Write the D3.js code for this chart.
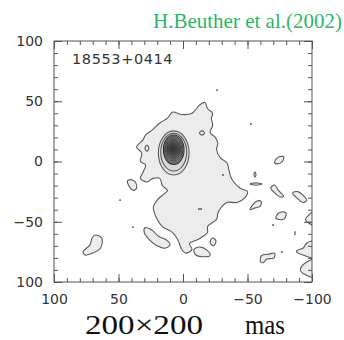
<!DOCTYPE html>
<html>
<head>
<meta charset="utf-8">
<script src="https://cdn.jsdelivr.net/npm/d3@7"></script>
<style>
  body { margin: 0; background: #fff; }
  svg { display: block; }
</style>
</head>
<body>
<div id="chart"></div>
<script>
// offsets in mas (x = RA offset, decreasing to the right)
var xTicks = [100, 50, 0, -50, -100];
var xTickLabels = ["100", "50", "0", "\u221250", "\u2212100"];
var yTicks = [100, 50, 0, -50, -100];
var yTickLabels = ["100", "50", "0", "\u221250", "100"];

// lowest contour: main emission region
var mainRegion = [
  [-17, 49], [-19, 44], [-23, 40], [-22, 36], [-23, 30], [-21, 24], [-25, 20],
  [-27, 15], [-26, 10], [-29, 3], [-34, -1], [-36, -9], [-38, -15], [-44, -22],
  [-50, -25], [-48, -30], [-42, -34], [-34, -34], [-29, -39], [-27, -43],
  [-26, -48], [-19, -54], [-19, -59], [-11, -65], [-5, -68], [-7, -73],
  [-2, -76], [1, -73], [4, -65], [8, -59], [16, -54], [20, -48], [22, -43],
  [23, -38], [20, -32], [16, -28], [12, -24], [16, -20], [18, -14], [23, -14],
  [28, -17], [33, -14], [31, -9], [29, -3], [33, 0], [32, 7], [36, 12],
  [31, 18], [29, 22], [24, 26], [18, 32], [12, 36], [8, 41], [1, 39],
  [-7, 40], [-13, 47]
];

// lowest contour: small separate patches
var islands = [
  [[41, -15], [37, -17], [36, -22], [38, -24], [42, -20], [43, -16]],
  [[29.5, 11], [28, 13.5], [26.5, 11], [28, 8.5]],
  [[-12.7, 23.7], [-14.7, 25.4], [-16.7, 23.7], [-14.7, 22]],
  [[-71, -1], [-73, 3], [-78, 4], [-77, 0], [-73, -2]],
  [[-55, -10.8], [-55.8, -8.7], [-56.6, -10.8], [-55.8, -12.9]],
  [[-52, -18.7], [-56.6, -17.7], [-61.3, -18.7], [-56.6, -19.7]],
  [[-68, -22], [-71, -19.5], [-74, -24], [-78, -29], [-76, -29.5], [-71, -26]],
  [[-85, -26], [-89, -25], [-93, -28], [-96, -32], [-93, -34], [-89, -31]],
  [[-52, -40], [-54, -36], [-57, -33], [-60.5, -33], [-60, -37], [-56, -38.5]],
  [[-72, -47], [-74, -43], [-79, -42], [-80, -44], [-78, -48]],
  [[-103, -40], [-98, -44], [-95, -48], [-99, -52], [-103, -53]],
  [[-60, -83], [-61, -78], [-66, -77], [-71, -76], [-70.5, -80], [-65, -81], [-62, -84]],
  [[-103, -66], [-96, -67.6], [-93, -72], [-89, -73.4], [-88, -75], [-93, -77.6], [-103, -80]],
  [[-104, -81], [-95, -84], [-91, -90], [-95, -94], [-104, -96]],
  [[68, -61], [63, -63.5], [64, -72], [70, -76], [76, -77.6], [77.5, -75], [72, -69], [70.5, -63.5]],
  [[29.5, -55], [24, -57], [19, -62], [13, -65], [10, -69], [14, -72], [20, -70], [26, -65], [30, -59]],
  [[-8.5, -73], [-13, -71], [-19, -74], [-21, -78], [-15.5, -79], [-10, -77.6]],
  [[-21, -67], [-23, -63.5], [-25.6, -66], [-23.5, -70]]
];

// single-pixel noise peaks
var specks = [
  [48.8, -32], [38.8, -54.4], [-52.7, 31.1], [-31, -11.2], [-69.8, -52.7],
  [-86.8, -60.2], [-86.8, -58.6], [-76.7, -75.1], [-26.4, 59.3], [-12.4, -39.4], [-14, -39.4]
];

// compact core: nested contours (centre x, centre y, half widths)
var coreCx = [7.2, 7.2, 7.2, 7.3, 7.3, 7.4, 7.4, 7.4, 7.5, 7.5, 7.5, 7.5];
var coreCy = [7.1, 7.7, 9.8, 10.0, 10.1, 10.2, 10.3, 10.3, 10.4, 10.4, 10.4, 10.4];
var coreRx = [11.9, 10.1, 8.0, 7.2, 6.4, 5.6, 4.8, 4.0, 3.2, 2.4, 1.6, 0.8];
var coreRy = [18.3, 15.6, 12.2, 11.0, 9.8, 8.5, 7.3, 6.1, 4.9, 3.7, 2.5, 1.2];

var W = 344, H = 340;
var margin = {top: 41, right: 32, bottom: 58, left: 54};
var width = W - margin.left - margin.right;
var height = H - margin.top - margin.bottom;

var svg = d3.select("#chart").append("svg")
    .attr("width", W)
    .attr("height", H);

var g = svg.append("g")
    .attr("transform", "translate(" + margin.left + "," + margin.top + ")");

var x = d3.scaleLinear().domain([100, -100]).range([0, width]);
var y = d3.scaleLinear().domain([100, -100]).range([0, height]);

g.append("clipPath").attr("id", "plotclip")
  .append("rect").attr("width", width).attr("height", height);

var maps = g.append("g").attr("clip-path", "url(#plotclip)");

var line = d3.line()
    .x(function(d) { return x(d[0]); })
    .y(function(d) { return y(d[1]); })
    .curve(d3.curveCatmullRomClosed.alpha(0.5));

maps.selectAll("path.patch")
  .data([mainRegion].concat(islands))
  .enter().append("path")
    .attr("class", "patch")
    .attr("d", line)
    .attr("fill", "#ececec")
    .attr("stroke", "#5a5a5a")
    .attr("stroke-width", 1.1);

maps.selectAll("circle.speck")
  .data(specks)
  .enter().append("circle")
    .attr("class", "speck")
    .attr("cx", function(d) { return x(d[0]); })
    .attr("cy", function(d) { return y(d[1]); })
    .attr("r", 0.9)
    .attr("fill", "#444");

var coreFill = ["#e2e2e2", "#d8d8d8", "#9a9a9a", "#909090", "#858585", "#7a7a7a",
                "#6f6f6f", "#656565", "#5a5a5a", "#505050", "#474747", "#3e3e3e"];

maps.selectAll("ellipse.core")
  .data(coreRx)
  .enter().append("ellipse")
    .attr("class", "core")
    .attr("cx", function(d, i) { return x(coreCx[i]); })
    .attr("cy", function(d, i) { return y(coreCy[i]); })
    .attr("rx", function(d) { return Math.abs(x(d) - x(0)); })
    .attr("ry", function(d, i) { return Math.abs(y(coreRy[i]) - y(0)); })
    .attr("fill", function(d, i) { return coreFill[i]; })
    .attr("stroke", function(d, i) { return i < 2 ? "#5a5a5a" : "#2e2e2e"; })
    .attr("stroke-width", function(d, i) { return i < 3 ? 1.1 : 0.7; });

// ticks, all pointing into the frame
var minorTicks = d3.range(-100, 101, 10);

var axes = [
  {mk: d3.axisBottom, sc: x, t: "translate(0," + height + ")", lab: xTickLabels, pad: 12},
  {mk: d3.axisTop, sc: x, t: "translate(0,0)", lab: null},
  {mk: d3.axisLeft, sc: y, t: "translate(0,0)", lab: yTickLabels, pad: 11},
  {mk: d3.axisRight, sc: y, t: "translate(" + width + ",0)", lab: null}
];

axes.forEach(function(a) {
  var minor = g.append("g").attr("transform", a.t)
      .call(a.mk(a.sc).tickValues(minorTicks).tickSizeInner(-4).tickSizeOuter(0));
  minor.select(".domain").remove();
  minor.selectAll("text").remove();

  var major = g.append("g").attr("transform", a.t)
      .call(a.mk(a.sc).tickValues(a.sc === x ? xTicks : yTicks)
        .tickSizeInner(-8).tickSizeOuter(0)
        .tickPadding(a.pad || 3)
        .tickFormat(function(d, i) { return a.lab ? a.lab[i] : ""; }));
  major.select(".domain").remove();
  if (!a.lab) major.selectAll("text").remove();
  major.selectAll("text")
      .attr("font-family", "DejaVu Sans, sans-serif")
      .attr("font-size", 14)
      .attr("fill", "#333");
});
g.selectAll(".tick line").attr("stroke", "#555");

g.append("rect")
    .attr("width", width)
    .attr("height", height)
    .attr("fill", "none")
    .attr("stroke", "#555")
    .attr("stroke-width", 1);

g.append("text")
    .attr("x", 18)
    .attr("y", 23)
    .attr("font-family", "DejaVu Sans, sans-serif")
    .attr("font-size", 14.5)
    .attr("letter-spacing", 0.6)
    .attr("fill", "#333")
    .text("18553+0414");

svg.append("text")
    .attr("x", 342)
    .attr("y", 28)
    .attr("text-anchor", "end")
    .attr("font-family", "Liberation Serif, serif")
    .attr("font-size", 21)
    .attr("fill", "#2fb565")
    .text("H.Beuther et al.(2002)");

svg.append("text")
    .attr("x", 85)
    .attr("y", 334)
    .attr("font-family", "Liberation Serif, serif")
    .attr("font-size", 27)
    .attr("textLength", 118)
    .attr("lengthAdjust", "spacingAndGlyphs")
    .attr("fill", "#111")
    .text("200\u00d7200");

svg.append("text")
    .attr("x", 245)
    .attr("y", 334)
    .attr("font-family", "Liberation Serif, serif")
    .attr("font-size", 27)
    .attr("textLength", 40)
    .attr("lengthAdjust", "spacingAndGlyphs")
    .attr("fill", "#111")
    .text("mas");
</script>
</body>
</html>
